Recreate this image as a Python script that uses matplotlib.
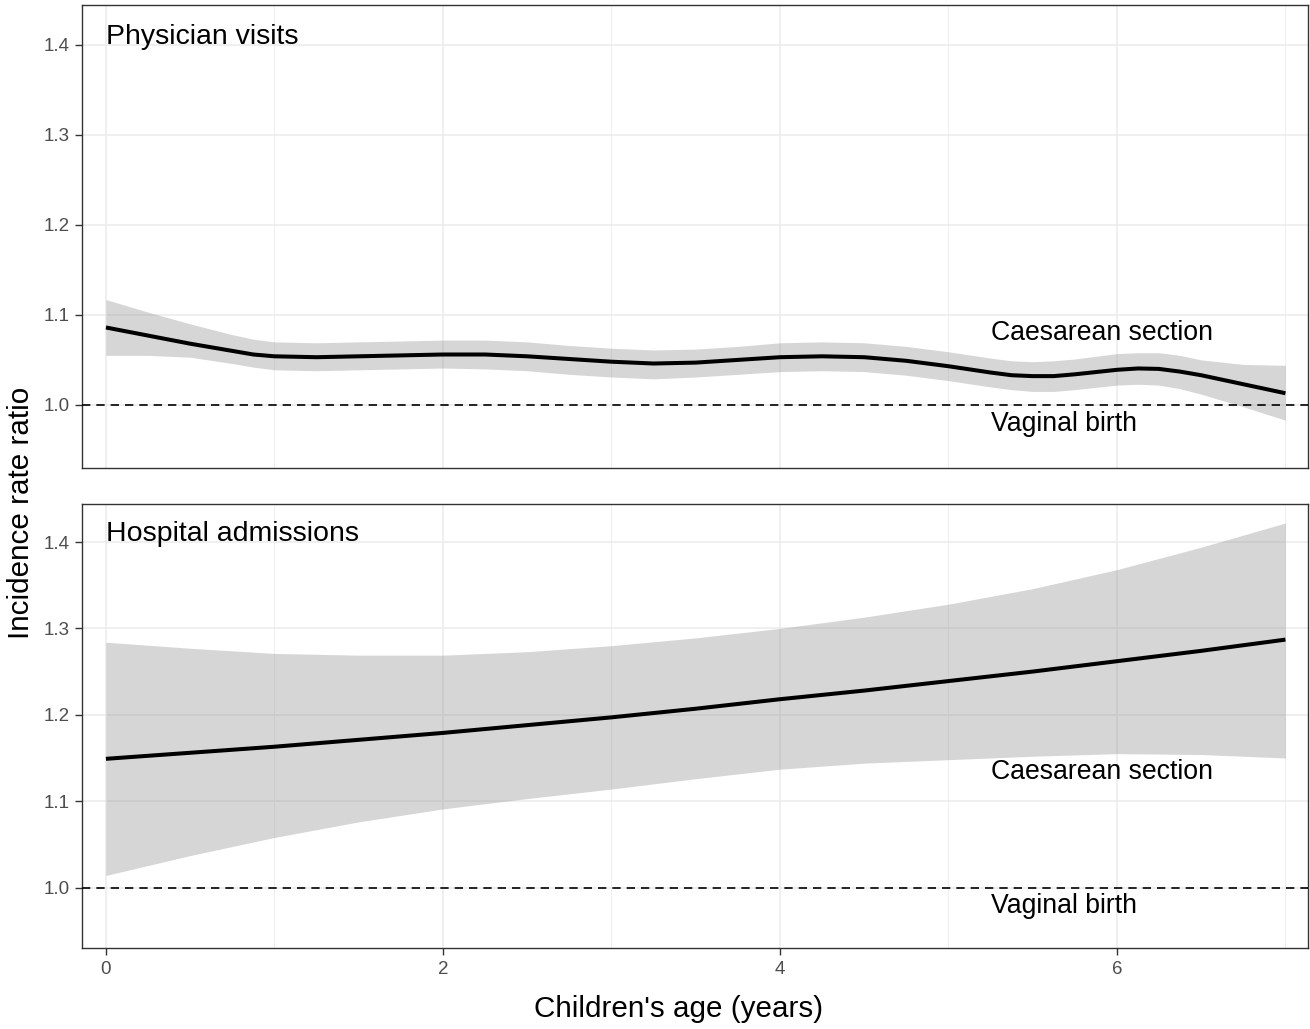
import matplotlib
matplotlib.use("Agg")
import matplotlib.pyplot as plt
from matplotlib.ticker import FixedLocator

plt.rcParams['font.family'] = ['Liberation Sans', 'DejaVu Sans']

# ---- data ----
age_phys = [0, 0.25, 0.5, 0.75, 0.875, 1.0, 1.25, 1.5, 1.75, 2.0, 2.25, 2.5, 2.75, 3.0, 3.25, 3.5,
            3.75, 4.0, 4.25, 4.5, 4.75, 5.0, 5.25, 5.375, 5.5, 5.625, 5.75, 6.0, 6.125, 6.25,
            6.375, 6.5, 6.75, 7.0]
irr_phys = [1.086, 1.077, 1.068, 1.060, 1.056, 1.054, 1.053, 1.054, 1.055, 1.056, 1.056, 1.054,
            1.051, 1.048, 1.046, 1.047, 1.050, 1.053, 1.054, 1.053, 1.049, 1.043, 1.036, 1.033,
            1.032, 1.032, 1.034, 1.039, 1.0405, 1.040, 1.037, 1.033, 1.023, 1.013]
upper_phys = [1.117, 1.103, 1.090, 1.078, 1.073, 1.070, 1.069, 1.070, 1.071, 1.072, 1.072, 1.070,
              1.066, 1.063, 1.061, 1.062, 1.065, 1.069, 1.070, 1.069, 1.065, 1.059, 1.052, 1.049,
              1.048, 1.049, 1.051, 1.057, 1.058, 1.058, 1.055, 1.050, 1.045, 1.044]
lower_phys = [1.055, 1.055, 1.053, 1.046, 1.042, 1.039, 1.038, 1.039, 1.040, 1.041, 1.040, 1.038,
              1.034, 1.031, 1.029, 1.031, 1.034, 1.037, 1.038, 1.037, 1.033, 1.027, 1.020, 1.017,
              1.015, 1.015, 1.017, 1.022, 1.023, 1.022, 1.018, 1.012, 0.998, 0.983]

age_hosp = [0, 0.5, 1, 1.5, 2, 2.5, 3, 3.5, 4, 4.5, 5, 5.5, 6, 6.5, 7]
irr_hosp = [1.149, 1.156, 1.163, 1.171, 1.179, 1.188, 1.197, 1.207, 1.218, 1.228, 1.239, 1.250,
            1.262, 1.274, 1.287]
upper_hosp = [1.284, 1.277, 1.271, 1.269, 1.269, 1.273, 1.280, 1.289, 1.300, 1.313, 1.328, 1.346,
              1.368, 1.394, 1.422]
lower_hosp = [1.014, 1.037, 1.058, 1.076, 1.091, 1.103, 1.114, 1.126, 1.137, 1.144, 1.148, 1.152,
              1.155, 1.154, 1.150]

panel_titles = ["Physician visits", "Hospital admissions"]
x_ticks = [0, 2, 4, 6]
x_minor = [1, 3, 5, 7]
y_ticks = [1.0, 1.1, 1.2, 1.3, 1.4]
y_tick_labels = ["1.0", "1.1", "1.2", "1.3", "1.4"]
upper_label = "Caesarean section"
lower_label = "Vaginal birth"
upper_label_y = [1.080, 1.134]
lower_label_y = [0.979, 0.979]
label_x = 5.25

W, H = 1310, 1029
fig = plt.figure(figsize=(W / 100, H / 100), dpi=100)

left, right = 82 / W, 1308 / W
ax_top = fig.add_axes([left, 1 - 468 / H, right - left, (468 - 5) / H])
ax_bot = fig.add_axes([left, 1 - 948 / H, right - left, (948 - 504) / H])

series = [
    (ax_top, age_phys, irr_phys, upper_phys, lower_phys),
    (ax_bot, age_hosp, irr_hosp, upper_hosp, lower_hosp),
]

for i, (ax, x, y, up, lo) in enumerate(series):
    ax.set_xlim(-0.142, 7.134)
    ax.set_ylim(0.930, 1.444)
    ax.set_facecolor("white")
    ax.xaxis.set_major_locator(FixedLocator(x_ticks))
    ax.xaxis.set_minor_locator(FixedLocator(x_minor))
    ax.yaxis.set_major_locator(FixedLocator(y_ticks))
    ax.set_yticklabels(y_tick_labels)
    ax.grid(which="major", color="#EBEBEB", linewidth=1.1, zorder=0)
    ax.grid(which="minor", axis="x", color="#EBEBEB", linewidth=0.55, zorder=0)
    ax.set_axisbelow(True)
    ax.fill_between(x, lo, up, color="#999999", alpha=0.4, linewidth=0, zorder=2)
    ax.plot(x, y, color="black", linewidth=2.9, zorder=3, solid_capstyle="butt",
            solid_joinstyle="round")
    ax.axhline(1.0, color="black", linewidth=1.2, linestyle=(0, (5, 3.6)), zorder=4)
    ax.text(0, 1.409, panel_titles[i], fontsize=20.5, ha="left", va="center", color="black")
    ax.text(label_x, upper_label_y[i], upper_label, fontsize=19.2, ha="left", va="center")
    ax.text(label_x, lower_label_y[i], lower_label, fontsize=19.2, ha="left", va="center")
    for s in ax.spines.values():
        s.set_color("#333333")
        s.set_linewidth(1.0)
    ax.tick_params(axis="y", which="major", length=5, width=1.0, color="#333333",
                   labelsize=13.5, labelcolor="#4D4D4D", pad=4)
    ax.tick_params(axis="x", which="minor", length=0)
    if i == 0:
        ax.tick_params(axis="x", which="major", length=0, labelbottom=False)
    else:
        ax.tick_params(axis="x", which="major", length=5, width=1.0, color="#333333",
                       labelsize=13.5, labelcolor="#4D4D4D", pad=4)
        ax.set_xticklabels([str(t) for t in x_ticks])

fig.text(21 / W, 1 - 513 / H, "Incidence rate ratio", rotation=90, fontsize=21.3,
         ha="center", va="center")
fig.text(679 / W, 1 - 1009 / H, "Children's age (years)", fontsize=21.3,
         ha="center", va="center")

fig.savefig("out.png", dpi=100, facecolor="white")
